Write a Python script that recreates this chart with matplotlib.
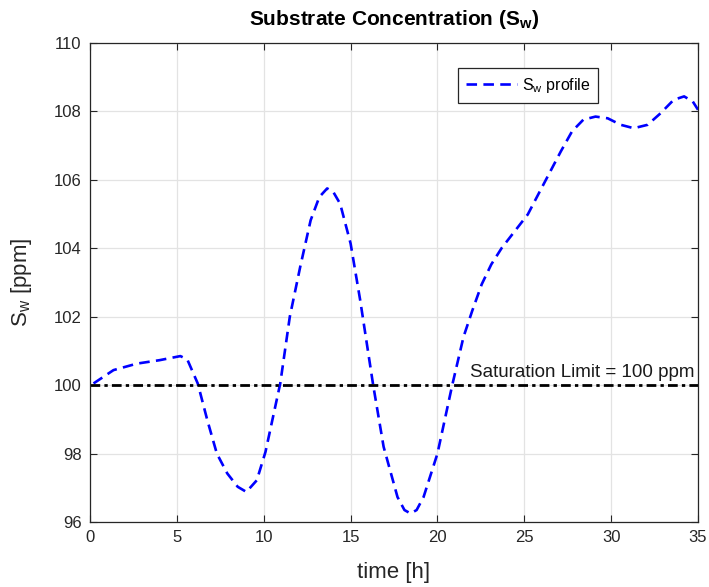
import matplotlib
matplotlib.use("Agg")
import matplotlib.pyplot as plt

# values
time_h = [0.2, 1.35, 2.7, 4.0, 5.2, 5.6, 6.2, 6.75, 7.3, 7.9, 8.5, 9.0, 9.6,
          10.1, 10.95, 11.5, 12.1, 12.7, 13.2, 13.65, 14.0, 14.4, 15.0, 15.55,
          16.3, 16.9, 17.7, 18.1, 18.45, 18.8, 19.2, 20.0, 20.85, 21.5, 22.0,
          22.55, 23.1, 23.7, 24.45, 25.2, 25.9, 26.5, 27.1, 27.75, 28.4, 29.1,
          29.8, 30.55, 31.3, 32.1, 32.85, 33.6, 34.2, 34.7, 35.0]
sw_ppm = [100.05, 100.44, 100.63, 100.73, 100.85, 100.75, 100.05, 98.98, 98.0,
          97.42, 97.03, 96.88, 97.22, 98.05, 100.05, 102.0, 103.46, 104.82,
          105.5, 105.75, 105.65, 105.3, 104.14, 102.49, 100.0, 98.2, 96.73,
          96.35, 96.25, 96.35, 96.73, 98.0, 100.0, 101.41, 102.17, 102.95,
          103.53, 104.01, 104.5, 104.99, 105.67, 106.25, 106.83, 107.42,
          107.76, 107.85, 107.8, 107.61, 107.51, 107.61, 107.95, 108.34,
          108.44, 108.29, 108.05]
sat_limit = 100
x_ticks = [0, 5, 10, 15, 20, 25, 30, 35]
y_ticks = [96, 98, 100, 102, 104, 106, 108, 110]

plt.rcParams.update({
    "font.family": "Liberation Sans",
    "mathtext.fontset": "custom",
    "mathtext.rm": "Liberation Sans",
    "mathtext.it": "Liberation Sans",
    "mathtext.bf": "Liberation Sans:bold",
})

fig = plt.figure(figsize=(7.09, 5.87), dpi=100)
ax = fig.add_axes([0.127, 0.1107, 0.8575, 0.816])

ax.plot(time_h, sw_ppm, color="#0000ff", linewidth=1.9,
        linestyle=(0, (4, 2.4)), label=r"S$_\mathrm{w}$ profile")
ax.plot([0, 35], [sat_limit, sat_limit], color="black", linewidth=2.0,
        linestyle=(0, (3.5, 1.5, 1.2, 1.5)))
ax.text(21.9, sat_limit + 0.12, f"Saturation Limit = {sat_limit} ppm",
        fontsize=13.5, ha="left", va="bottom", color="#1a1a1a")

ax.set_xlim(0, 35)
ax.set_ylim(96, 110)
ax.set_xticks(x_ticks)
ax.set_yticks(y_ticks)
ax.tick_params(direction="in", length=5, width=0.8, top=True, right=True,
               labelsize=12, colors="#262626", pad=6)
for s in ax.spines.values():
    s.set_color("#262626")
    s.set_linewidth(0.9)
ax.grid(True, color="#e3e3e3", linewidth=0.9)
ax.set_axisbelow(True)

ax.set_xlabel("time [h]", fontsize=16, color="#262626", labelpad=12)
ax.set_ylabel(r"S$_\mathrm{w}$ [ppm]", fontsize=16, color="#262626", labelpad=14)
ax.set_title(r"Substrate Concentration (S$_\mathbf{w}$)", fontsize=15,
             fontweight="bold", pad=13)

leg = ax.legend(loc="upper right", bbox_to_anchor=(0.836, 0.948),
                borderaxespad=0, fancybox=False, fontsize=11.5,
                handlelength=3.2, handletextpad=0.3, borderpad=0.5)
leg.get_frame().set_edgecolor("#262626")
leg.get_frame().set_linewidth(0.9)
leg.get_frame().set_alpha(1)

fig.savefig("out.png", dpi=100)
